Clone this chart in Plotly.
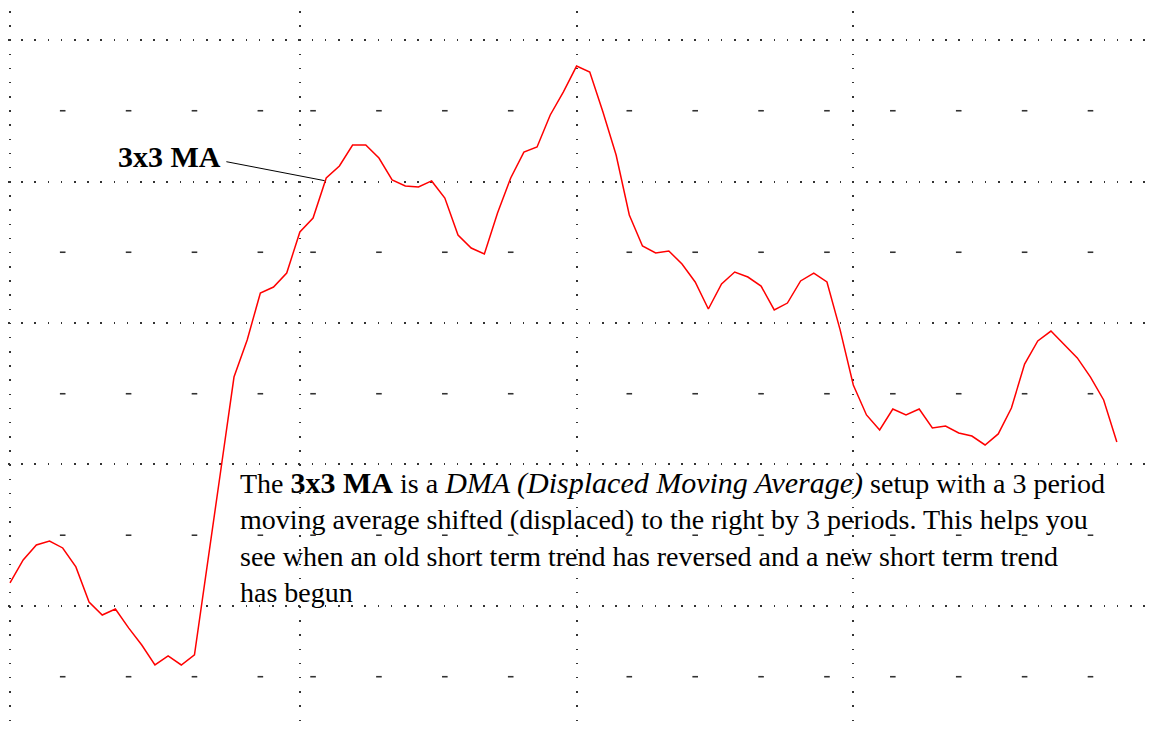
import plotly.graph_objects as go

# --- data ---
periods = list(range(85))
ma_3x3 = [1.63, 3.25, 4.31, 4.59, 4.10, 2.76, 0.28, -0.64, -0.21, -1.55,
          -2.76, -4.17, -3.53, -4.17, -3.46, 3.25, 9.61, 16.18, 18.80, 22.12,
          22.54, 23.53, 26.43, 27.42, 30.25, 31.10, 32.58, 32.58, 31.66, 30.11,
          29.68, 29.61, 30.04, 28.83, 26.22, 25.30, 24.88, 27.77, 30.25, 32.08,
          32.44, 34.70, 36.33, 38.16, 37.74, 34.91, 31.87, 27.63, 25.44, 24.95,
          25.09, 24.17, 22.90, 20.99, 22.76, 23.60, 23.25, 22.61, 20.92, 21.41,
          22.97, 23.53, 22.90, 19.51, 15.62, 13.50, 12.44, 13.92, 13.50, 13.92,
          12.58, 12.72, 12.23, 12.01, 11.38, 12.16, 13.99, 17.10, 18.73, 19.43,
          18.45, 17.53, 16.18, 14.56, 11.59]

major_x = [0, 22, 43, 64, 87]                 # month separators
minor_x = [4, 9, 14, 19, 23, 28, 33, 38, 47, 52, 57, 62, 67, 72, 77, 82]  # week marks
major_y = [0, 10, 20, 30, 40]
minor_y = [-5, 5, 15, 25, 35]

big = '<span style="font-size:30px">'
label_text = "<b>3x3 MA</b>"
note_text = ("The " + big + "<b>3x3 MA</b></span> is a " + big +
             "<i>DMA (Displaced Moving Average)</i></span> setup with a 3 period<br>"
             "moving average shifted (displaced) to the right by 3 periods. This helps you<br>"
             "see when an old short term trend has reversed and a new short term trend<br>"
             "has begun")

fig = go.Figure()

# minor grid marks (short dashes)
mx, my = [], []
for yv in minor_y:
    for xv in minor_x:
        mx.append(xv)
        my.append(yv)
fig.add_trace(go.Scatter(
    x=mx, y=my, mode="markers",
    marker=dict(symbol="line-ew", size=4, line=dict(width=1.6, color="#333333"), color="#333333"),
    hoverinfo="skip", showlegend=False))

# the 3x3 MA line
fig.add_trace(go.Scatter(
    x=periods, y=ma_3x3, mode="lines",
    line=dict(color="#ff0000", width=1.5),
    hoverinfo="skip", showlegend=False))

serif = "Liberation Serif, Times New Roman, serif"

# leader line from label to the curve
fig.add_shape(type="line", xref="x", yref="y",
              x0=16.42, y0=31.40, x1=23.87, y1=30.06,
              line=dict(color="black", width=1))

fig.add_annotation(x=16.2, y=31.75, xref="x", yref="y", text=label_text,
                   showarrow=False, xanchor="right", yanchor="middle",
                   font=dict(family=serif, size=30, color="black"))

fig.add_annotation(x=17.3, y=10.0, xref="x", yref="y", text=note_text,
                   showarrow=False, xanchor="left", yanchor="top", align="left",
                   font=dict(family=serif, size=28, color="black"))

fig.update_layout(
    width=1151, height=726,
    margin=dict(l=0, r=0, t=3, b=12),
    paper_bgcolor="white", plot_bgcolor="white",
    xaxis=dict(range=[-0.1516, 87.2], tickvals=major_x, showticklabels=False,
               ticks="", showgrid=True, gridcolor="#333333", gridwidth=1.5,
               griddash="1.5px,12.67px", zeroline=False, showline=False),
    yaxis=dict(range=[-8.2, 42.05], tickvals=major_y, showticklabels=False,
               ticks="", showgrid=True, gridcolor="#333333", gridwidth=1.5,
               griddash="1.5px,11.7px", zeroline=False, showline=False),
    showlegend=False,
)

fig.write_html("out.html")
